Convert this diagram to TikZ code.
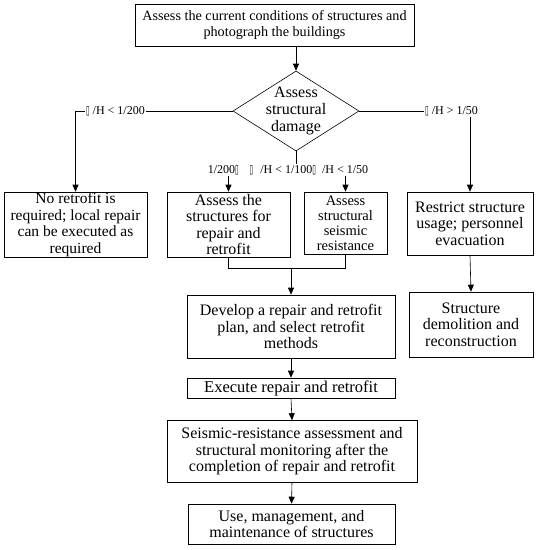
\documentclass[tikz,border=0pt]{standalone}
\usepackage{fontspec}
\setmainfont{Liberation Serif}
\newfontfamily\symfont{DejaVu Sans}
\usetikzlibrary{shapes.geometric,arrows.meta}
\newcommand{\tofu}{{\symfont\scalebox{0.55}[1]{▯}}}
\begin{document}
\begin{tikzpicture}[x=1pt,y=-1pt,
  box/.style={draw,line width=0.6pt,align=center,inner sep=0pt,font=\fontsize{16}{16.5}\selectfont},
  lbl/.style={inner sep=1pt,font=\fontsize{12}{13}\selectfont},
  arr/.style={line width=0.6pt,-{Triangle[length=7pt,width=6pt]}},
  ln/.style={line width=0.6pt}]
\useasboundingbox (0,0) rectangle (538,550);
\node[box,minimum width=279,minimum height=42,font=\fontsize{14.2}{16}\selectfont] (top) at (274.5,25) {Assess the current conditions of structures and\\photograph the buildings};
\node[draw,line width=0.6pt,diamond,inner sep=0pt,minimum width=126,minimum height=80,
  label={[align=center,inner sep=0pt,font=\fontsize{16}{17}\selectfont]center:Assess\\structural\\damage}] (dia) at (296,111) {};
\node[box,minimum width=143,minimum height=65,font=\fontsize{15.5}{16.5}\selectfont] (nore) at (75.5,224.5) {No retrofit is\\required; local repair\\can be executed as\\required};
\node[box,minimum width=123,minimum height=65] (asr) at (228.5,224.5) {Assess the\\structures for\\repair and\\retrofit};
\node[box,minimum width=83,minimum height=62,font=\fontsize{14.5}{15}\selectfont] (asc) at (345.5,223) {Assess\\structural\\seismic\\resistance};
\node[box,minimum width=126,minimum height=63] (res) at (470,223.5) {Restrict structure\\usage; personnel\\evacuation};
\node[box,minimum width=124,minimum height=65] (dem) at (471,324.5) {Structure\\demolition and\\reconstruction};
\node[box,minimum width=208,minimum height=63] (dev) at (291,326.5) {Develop a repair and retrofit\\plan, and select retrofit\\methods};
\node[box,minimum width=208,minimum height=20,font=\fontsize{16.5}{17}\selectfont] (exe) at (291,388) {Execute repair and retrofit};
\node[box,minimum width=250,minimum height=62] (sra) at (292,451.5) {Seismic-resistance assessment and\\structural monitoring after the\\completion of repair and retrofit};
\node[box,minimum width=207,minimum height=40] (use) at (291.5,524) {Use, management, and\\maintenance of structures};
% labels
\node[lbl,anchor=east] (lL) at (146,111) {\tofu\ /H < 1/200};
\node[lbl,anchor=west] (lR) at (424,111) {\tofu\ /H > 1/50};
\node[lbl] (lM) at (288,170) {1/200\tofu\hspace{11pt}\tofu\hspace{7pt}/H < 1/100\tofu\hspace{6pt}/H < 1/50};
\coordinate (lLend) at (75.5,111);
\coordinate (mrg) at (291,268);
% connectors
\draw[arr] (dia.north |- top.south) -- (dia.north);
\draw[ln] (dia.west) -- (lL.east);
\draw[arr] (lL.west) -- (lLend) -- (nore.north);
\draw[ln] (dia.east) -- (lR.west);
\draw[arr] (lR.south -| res.north) -- (res.north);
\draw[ln] (dia.south) -- (dia.south |- lM.north);
\draw[arr] (lM.south -| asr.north) -- (asr.north);
\draw[arr] (lM.south -| asc.north) -- (asc.north);
\draw[ln] (asr.south) -- (asr.south |- mrg) -- (asc.south |- mrg) -- (asc.south);
\draw[arr] (mrg) -- (dev.north);
\draw[arr] (dev.south) -- (exe.north);
\draw[arr] (exe.south) -- (sra.north);
\draw[arr] (sra.south) -- (use.north);
\draw[arr] (res.south) -- (dem.north);
\end{tikzpicture}
\end{document}
